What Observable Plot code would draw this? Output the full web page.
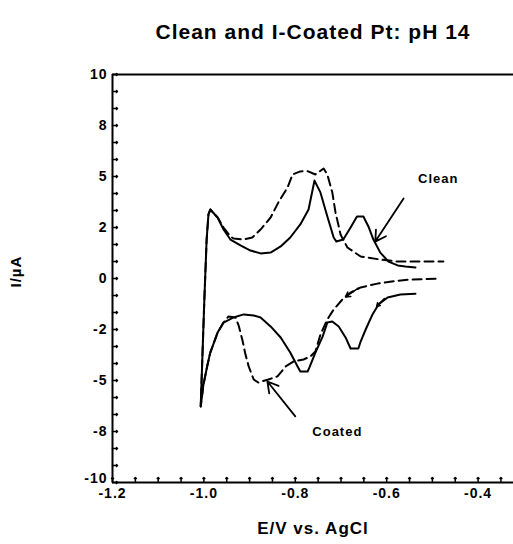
<!DOCTYPE html>
<html>
<head>
<meta charset="utf-8">
<script src="https://cdn.jsdelivr.net/npm/d3@7"></script>
<script src="https://cdn.jsdelivr.net/npm/@observablehq/plot@0.6"></script>
<style>
  html, body { margin: 0; padding: 0; background: white; }
  svg text { letter-spacing: 1px; }
  g[aria-label="title"] text { letter-spacing: 2.2px; }
</style>
</head>
<body>
<div id="chart"></div>
<script>
// Clean Pt (solid): drawn in sweep order (cathodic branch right→left, spike, anodic branch left→right)
const cleanE = [-0.537,-0.570,-0.598,-0.618,-0.631,-0.646,-0.657,-0.662,-0.679,-0.690,-0.705,-0.719,-0.730,-0.740,-0.756,-0.769,-0.773,-0.789,-0.795,-0.811,-0.832,-0.854,-0.876,-0.891,-0.913,-0.935,-0.957,-0.970,-0.986,-0.992,-1.001,-1.007,-0.999,-0.994,-0.990,-0.986,-0.970,-0.957,-0.942,-0.920,-0.898,-0.876,-0.854,-0.832,-0.811,-0.789,-0.771,-0.758,-0.745,-0.730,-0.716,-0.710,-0.695,-0.679,-0.665,-0.651,-0.640,-0.629,-0.614,-0.596,-0.576,-0.559,-0.537];
const cleanI = [-0.75,-0.78,-0.93,-1.27,-1.76,-2.50,-3.09,-3.43,-3.43,-2.89,-2.35,-2.11,-2.16,-2.84,-3.63,-4.36,-4.56,-4.56,-4.31,-3.63,-2.89,-2.35,-1.91,-1.81,-1.76,-1.91,-2.16,-2.65,-3.63,-4.22,-5.20,-6.27,-1.03,1.91,3.14,3.38,2.99,2.40,1.91,1.62,1.37,1.23,1.27,1.57,2.01,2.65,3.38,4.80,4.22,3.05,2.01,1.81,1.91,2.50,3.04,3.04,2.55,1.91,1.27,0.83,0.64,0.59,0.54];

// I-coated Pt (dashed)
const coatedE = [-0.493,-0.548,-0.585,-0.620,-0.657,-0.679,-0.697,-0.716,-0.730,-0.745,-0.756,-0.767,-0.782,-0.804,-0.821,-0.839,-0.859,-0.881,-0.891,-0.902,-0.909,-0.916,-0.924,-0.931,-0.946,-0.957,-0.970,-0.986,-0.992,-1.001,-1.007,-0.999,-0.994,-0.990,-0.986,-0.970,-0.957,-0.942,-0.935,-0.913,-0.894,-0.876,-0.854,-0.837,-0.817,-0.806,-0.789,-0.773,-0.756,-0.738,-0.730,-0.719,-0.712,-0.701,-0.686,-0.657,-0.614,-0.576,-0.541,-0.476];
const coatedI = [-0.01,-0.05,-0.13,-0.25,-0.44,-0.69,-1.03,-1.52,-2.01,-2.75,-3.58,-3.82,-3.97,-4.07,-4.31,-4.80,-4.95,-5.10,-4.95,-4.31,-3.73,-2.99,-2.30,-1.91,-1.86,-2.16,-2.65,-3.63,-4.22,-5.20,-6.27,-1.03,1.91,3.14,3.38,2.99,2.50,2.06,1.96,1.91,2.01,2.40,2.99,3.73,4.46,5.10,5.25,5.26,5.10,5.39,5.10,4.22,3.24,2.16,1.52,1.08,0.93,0.83,0.83,0.83];

// Axis ticks and labels
const xMajor = [-1.2, -1.0, -0.8, -0.6, -0.4];
const xLabels = ["-1.2", "-1.0", "-0.8", "-0.6", "-0.4"];
const yMajor = [10, 7.5, 5, 2.5, 0, -2.5, -5, -7.5, -10];
const yLabels = ["10", "8", "5", "2", "0", "-2", "-5", "-8", "-10"];
const xMinor = d3.range(-1.2, -0.33, 0.05);
const yMinor = d3.range(-10, 10.01, 2.5 / 3);

// Annotations
const labelText = ["Clean", "Coated"];
const labelE = [-0.487, -0.708];
const labelI = [4.90, -7.50];
const pointerE1 = [-0.563, -0.800];
const pointerI1 = [3.92, -6.76];
const pointerE2 = [-0.625, -0.861];
const pointerI2 = [1.81, -5.05];
// small direction chevrons on the cathodic branches
const chevE1 = [-0.662, -0.605];
const chevI1 = [-0.47, -0.98];
const chevE2 = [-0.690, -0.622];
const chevI2 = [-0.90, -1.37];

const clean = cleanE.map((e, i) => ({E: e, I: cleanI[i]}));
const coated = coatedE.map((e, i) => ({E: e, I: coatedI[i]}));
const labels = labelText.map((t, i) => ({t, E: labelE[i], I: labelI[i]}));
const pointers = pointerE1.map((e, i) => ({x1: e, y1: pointerI1[i], x2: pointerE2[i], y2: pointerI2[i]}));
const chevrons = chevE1.map((e, i) => ({x1: e, y1: chevI1[i], x2: chevE2[i], y2: chevI2[i]}));

const yFmt = d => yLabels[yMajor.indexOf(d)];
const yUpper = yMajor.slice(0, -1);
const yBottom = yMajor.slice(-1);

const chart = Plot.plot({
  width: 513,
  height: 544,
  marginLeft: 112,
  marginRight: 0,
  marginTop: 74,
  marginBottom: 62,
  x: {domain: [-1.2, -0.3225]},
  y: {domain: [-10, 10]},
  style: {fontFamily: "'Liberation Sans', Arial, Helvetica, sans-serif", color: "black", background: "white"},
  marks: [
    Plot.ruleY([10], {strokeWidth: 2}),
    Plot.ruleY([-10], {strokeWidth: 2}),
    Plot.ruleX([-1.2], {strokeWidth: 2}),
    Plot.vector(xMinor, {x: d => d, frameAnchor: "bottom", rotate: 0, length: 5, anchor: "start", strokeWidth: 1.5}),
    Plot.vector(yMinor, {y: d => d, frameAnchor: "left", rotate: 90, length: 5, anchor: "start", strokeWidth: 1.5}),
    Plot.axisX(xMajor, {tickFormat: d => xLabels[xMajor.indexOf(d)], tickSize: 0, tickPadding: 6, fontSize: 14, fontWeight: "bold", label: null}),
    Plot.axisY(yUpper, {tickFormat: yFmt, tickSize: 0, tickPadding: 5, fontSize: 14, fontWeight: "bold", label: null}),
    Plot.axisY(yBottom, {tickFormat: yFmt, tickSize: 0, tickPadding: 5, dy: -4, fontSize: 14, fontWeight: "bold", label: null}),
    Plot.line(coated, {x: "E", y: "I", stroke: "black", strokeWidth: 2, strokeDasharray: "9,5"}),
    Plot.line(clean, {x: "E", y: "I", stroke: "black", strokeWidth: 2}),
    Plot.arrow(pointers, {x1: "x1", y1: "y1", x2: "x2", y2: "y2", stroke: "black", strokeWidth: 1.8, headLength: 10}),
    Plot.arrow(chevrons, {x1: "x1", y1: "y1", x2: "x2", y2: "y2", stroke: "black", strokeWidth: 1.6, headLength: 8}),
    Plot.text(labels, {x: "E", y: "I", text: "t", fontSize: 13, fontWeight: "bold"}),
    Plot.text(["Clean and I-Coated Pt: pH 14"], {frameAnchor: "top", dy: -50, fontSize: 21, fontWeight: "bold", ariaLabel: "title"}),
    Plot.text(["E/V vs. AgCl"], {frameAnchor: "bottom", dy: 51, fontSize: 17, fontWeight: "bold"}),
    Plot.text(["I/µA"], {frameAnchor: "left", dx: -96, dy: 9, rotate: -90, fontSize: 15, fontWeight: "bold"})
  ]
});
document.getElementById("chart").appendChild(chart);
</script>
</body>
</html>
